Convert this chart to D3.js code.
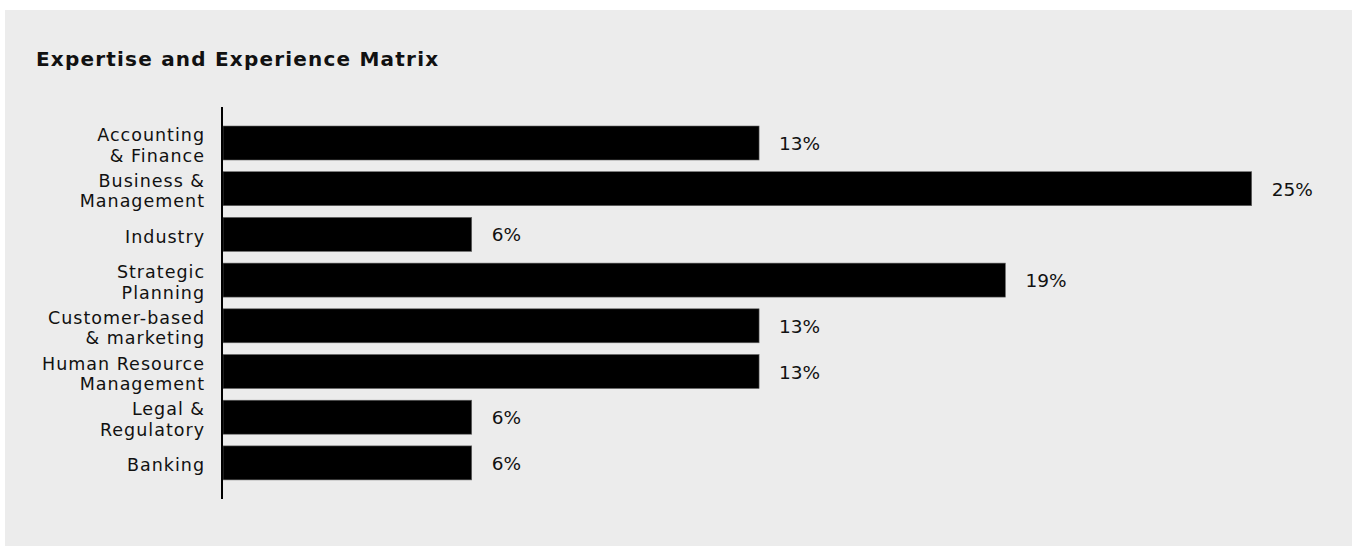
<!DOCTYPE html>
<html>
<head>
<meta charset="utf-8">
<script src="https://cdn.jsdelivr.net/npm/d3@7"></script>
<style>
  html, body { margin: 0; padding: 0; background: #ffffff; }
  svg { display: block; }
  text { font-family: "DejaVu Sans", sans-serif; }
</style>
</head>
<body>
<svg id="chart" width="1355" height="547"></svg>
<script>
const title = "Expertise and Experience Matrix";
const categories = [
  "Accounting\n& Finance",
  "Business &\nManagement",
  "Industry",
  "Strategic\nPlanning",
  "Customer-based\n& marketing",
  "Human Resource\nManagement",
  "Legal &\nRegulatory",
  "Banking"
];
const values = [13, 25, 6, 19, 13, 13, 6, 6];
const valueLabels = ["13%", "25%", "6%", "19%", "13%", "13%", "6%", "6%"];

const svg = d3.select("#chart");

svg.append("rect")
  .attr("x", 5).attr("y", 10)
  .attr("width", 1347).attr("height", 536)
  .attr("fill", "#ececec");

svg.append("text")
  .attr("x", 36).attr("y", 66)
  .attr("font-size", 20)
  .attr("font-weight", "bold")
  .attr("letter-spacing", 1.2)
  .attr("fill", "#111")
  .text(title);

const axisX = 222;
const x = d3.scaleLinear().domain([0, 25]).range([225.4, 1251.7]);
const y = d3.scaleBand()
  .domain(categories)
  .range([120.15, 485.75])
  .paddingInner(0.256)
  .paddingOuter(0.128);

const data = categories.map((c, i) => ({ c, v: values[i], l: valueLabels[i] }));

svg.append("g").selectAll("rect")
  .data(data)
  .join("rect")
  .attr("x", axisX + 1)
  .attr("y", d => y(d.c))
  .attr("width", d => x(d.v) - axisX - 1)
  .attr("height", y.bandwidth())
  .attr("fill", "#000")
  .attr("stroke", "#666")
  .attr("stroke-width", 0.6);

svg.append("g").selectAll("text")
  .data(data)
  .join("text")
  .attr("x", d => x(d.v) + 20)
  .attr("y", d => y(d.c) + y.bandwidth() / 2)
  .attr("dy", "0.38em")
  .attr("font-size", 18.5)
  .attr("fill", "#111")
  .text(d => d.l);

const yAxis = d3.axisLeft(y).tickSize(0).tickPadding(17);
const gAxis = svg.append("g")
  .attr("transform", `translate(${axisX},0)`)
  .call(yAxis);
gAxis.select(".domain").remove();
gAxis.selectAll(".tick text").each(function(d) {
  const t = d3.select(this);
  const lines = d.split("\n");
  t.text(null)
   .attr("font-size", 17.5)
   .attr("letter-spacing", 1.0)
   .attr("font-family", "DejaVu Sans, sans-serif")
   .attr("fill", "#111")
   .attr("dy", null);
  const lh = 20.6;
  const start = -(lines.length - 1) * lh / 2;
  lines.forEach((ln, i) => {
    t.append("tspan")
      .attr("x", -17)
      .attr("y", start + i * lh)
      .attr("dy", "0.48em")
      .text(ln);
  });
});

svg.append("line")
  .attr("x1", axisX).attr("x2", axisX)
  .attr("y1", 107).attr("y2", 499)
  .attr("stroke", "#000")
  .attr("stroke-width", 2);
</script>
</body>
</html>
